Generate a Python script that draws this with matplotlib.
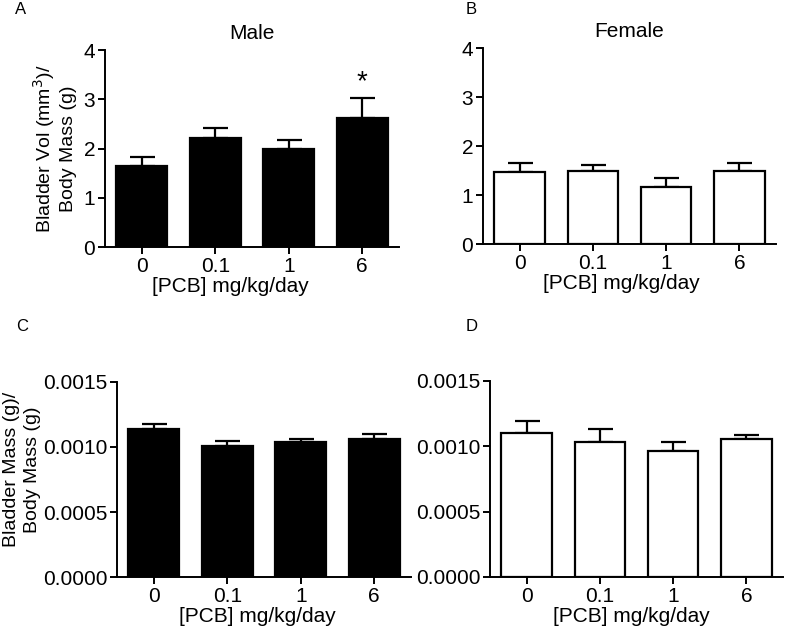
import matplotlib
matplotlib.use('Agg')
import matplotlib.pyplot as plt
import numpy as np

plt.rcParams['font.family'] = ['Liberation Sans', 'DejaVu Sans']

doses = ['0', '0.1', '1', '6']

# bladder volume / body mass
male_vol = [1.65, 2.21, 1.99, 2.61]
male_vol_sem = [0.17, 0.20, 0.18, 0.42]
female_vol = [1.46, 1.48, 1.17, 1.49]
female_vol_sem = [0.19, 0.13, 0.18, 0.17]

# bladder mass / body mass
male_mass = [0.001137, 0.001007, 0.00104, 0.001058]
male_mass_sem = [0.000035, 0.000038, 0.00002, 0.000042]
female_mass = [0.0011, 0.001033, 0.000962, 0.001054]
female_mass_sem = [0.000096, 0.000097, 0.000068, 0.000033]

significant = [False, False, False, True]


def bar_panel(ax, values, sem, fill, ylim, yticks, yfmt, xlab_x):
    x = np.arange(len(doses))
    ax.bar(x, values, width=0.69, color=fill, edgecolor='black', linewidth=1.6, zorder=2)
    ax.errorbar(x, values, yerr=[np.zeros(len(sem)), sem], fmt='none', ecolor='black',
                elinewidth=1.6, capsize=9, capthick=1.6, zorder=1)
    ax.set_xlim(-0.5, len(doses) - 0.5)
    ax.set_ylim(*ylim)
    ax.set_yticks(yticks)
    ax.set_yticklabels([yfmt.format(v) for v in yticks], fontsize=15)
    ax.set_xticks(x)
    ax.set_xticklabels(doses, fontsize=15)
    ax.set_xlabel('[PCB] mg/kg/day', fontsize=15)
    ax.xaxis.set_label_coords(xlab_x, -0.152)
    for s in ['top', 'right']:
        ax.spines[s].set_visible(False)
    for s in ['left', 'bottom']:
        ax.spines[s].set_linewidth(1.4)
    ax.tick_params(axis='both', width=1.4, length=5, pad=2)


fig = plt.figure(figsize=(7.86, 6.26), dpi=100)

axA = fig.add_axes([0.1336, 0.6054, 0.374, 0.3147])
axB = fig.add_axes([0.6145, 0.6102, 0.3728, 0.3131])
axC = fig.add_axes([0.1489, 0.0778, 0.374, 0.3125])
axD = fig.add_axes([0.6234, 0.0783, 0.3728, 0.3131])

vol_ticks = [0, 1, 2, 3, 4]
mass_ticks = [0.0, 0.0005, 0.0010, 0.0015]

bar_panel(axA, male_vol, male_vol_sem, 'black', (0, 4), vol_ticks, '{:g}', 0.425)
bar_panel(axB, female_vol, female_vol_sem, 'white', (0, 4), vol_ticks, '{:g}', 0.471)
bar_panel(axC, male_mass, male_mass_sem, 'black', (0, 0.0015), mass_ticks, '{:.4f}', 0.478)
bar_panel(axD, female_mass, female_mass_sem, 'white', (0, 0.0015), mass_ticks, '{:.4f}', 0.481)

axA.set_title('Male', fontsize=15, pad=8)
axB.set_title('Female', fontsize=15, pad=8)

axA.set_ylabel('Bladder Vol (mm$^3$)/\nBody Mass (g)', fontsize=14, linespacing=1.2)
axA.yaxis.set_label_coords(-0.095, 0.5)
axC.set_ylabel('Bladder Mass (g)/\nBody Mass (g)', fontsize=14, linespacing=1.25)
axC.yaxis.set_label_coords(-0.26, 0.55)

# significance marker
for i, sig in enumerate(significant):
    if sig:
        axA.annotate('*', (i, male_vol[i] + male_vol_sem[i]), xytext=(0, 2),
                     textcoords='offset points', ha='center', va='bottom', fontsize=20)

fig.text(0.019, 0.997, 'A', fontsize=12, va='top')
fig.text(0.592, 0.997, 'B', fontsize=12, va='top')
fig.text(0.020, 0.490, 'C', fontsize=12, va='top')
fig.text(0.592, 0.490, 'D', fontsize=12, va='top')

fig.savefig('out.png', dpi=100)
